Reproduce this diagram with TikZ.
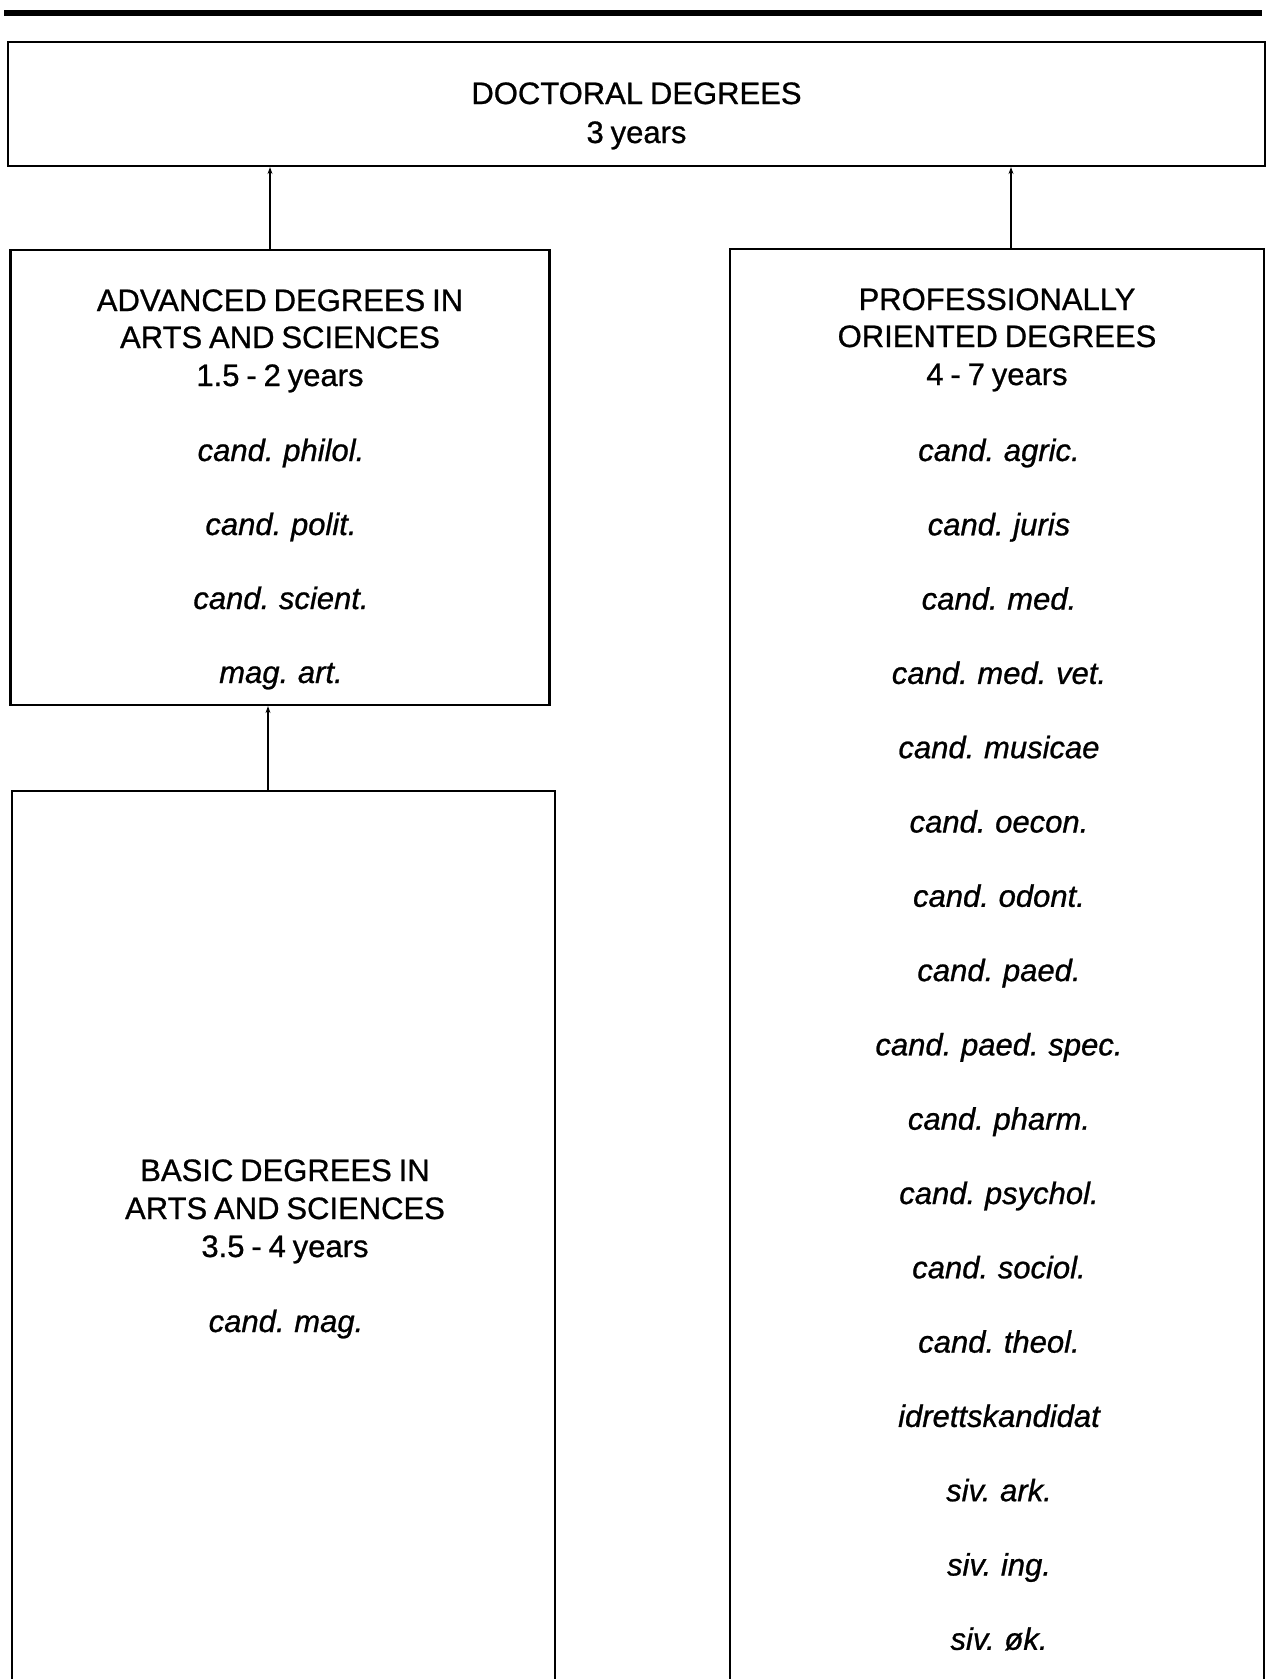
\documentclass[tikz,border=0pt]{standalone}
\usepackage{fontspec}
\setmainfont{Liberation Sans}
\newfontfamily\hvfont[FakeBold=0.8,WordSpace=0.8]{Liberation Sans}
\usetikzlibrary{arrows.meta}
\begin{document}
\begin{tikzpicture}[x=1pt,y=-1pt,
  box/.style={draw=black,line width=2.2pt,inner sep=0pt,fill=none},
  hd/.style={anchor=base,inner sep=0pt,font=\hvfont\fontsize{31}{37}\selectfont},
  item/.style={anchor=base,inner sep=0pt,font=\hvfont\fontsize{31}{37}\selectfont\itshape},
  arr/.style={line width=2.6pt,-{Stealth[length=7pt,width=5pt]}},
  rule/.style={line width=6pt}]
\useasboundingbox (0,0) rectangle (1269,1679);
% top rule
\coordinate (r1) at (4,12.5);
\coordinate (r2) at (1262,12.5);
\draw[rule] (r1) -- (r2);
% boxes
\node[box,minimum width=1257pt,minimum height=124pt] (doc) at (636.5,104) {};
\node[box,minimum width=539pt,minimum height=455pt] (adv) at (280,477.5) {};
\node[box,minimum width=543pt,minimum height=909pt] (bas) at (283.5,1245.5) {};
\node[box,minimum width=534pt,minimum height=1451pt] (pro) at (997,974.5) {};
% connectors
\coordinate (xa) at (270,0);
\coordinate (xb) at (1011,0);
\coordinate (xc) at (268,0);
\draw[arr] (xa |- adv.north) -- (xa |- doc.south);
\draw[arr] (xb |- pro.north) -- (xb |- doc.south);
\draw[arr] (xc |- bas.north) -- (xc |- adv.south);
% doctoral
\node[hd] (t1) at (636.5,104) {DOCTORAL DEGREES};
\node[hd] (t2) at (636.5,143) {3 years};
% advanced
\node[hd] (a1) at (280,311) {ADVANCED DEGREES IN};
\node[hd] (a2) at (280,348) {ARTS AND SCIENCES};
\node[hd] (a3) at (280,386) {1.5 - 2 years};
\foreach \t [count=\i from 0] in {cand. philol.,cand. polit.,cand. scient.,mag. art.}
  \node[item] (ai\i) at (281,461+74*\i) {\t};
% basic
\node[hd] (b1) at (285,1181) {BASIC DEGREES IN};
\node[hd] (b2) at (285,1219) {ARTS AND SCIENCES};
\node[hd] (b3) at (285,1257) {3.5 - 4 years};
\node[item] (bi) at (286,1332) {cand. mag.};
% professional
\node[hd] (p1) at (997,310) {PROFESSIONALLY};
\node[hd] (p2) at (997,347) {ORIENTED DEGREES};
\node[hd] (p3) at (997,385) {4 - 7 years};
\foreach \t [count=\i from 0] in {cand. agric.,cand. juris,cand. med.,cand. med. vet.,cand. musicae,cand. oecon.,cand. odont.,cand. paed.,cand. paed. spec.,cand. pharm.,cand. psychol.,cand. sociol.,cand. theol.,idrettskandidat,siv. ark.,siv. ing.,siv. øk.}
  \node[item] (pi\i) at (999,461+74.3*\i) {\t};
\end{tikzpicture}
\end{document}
